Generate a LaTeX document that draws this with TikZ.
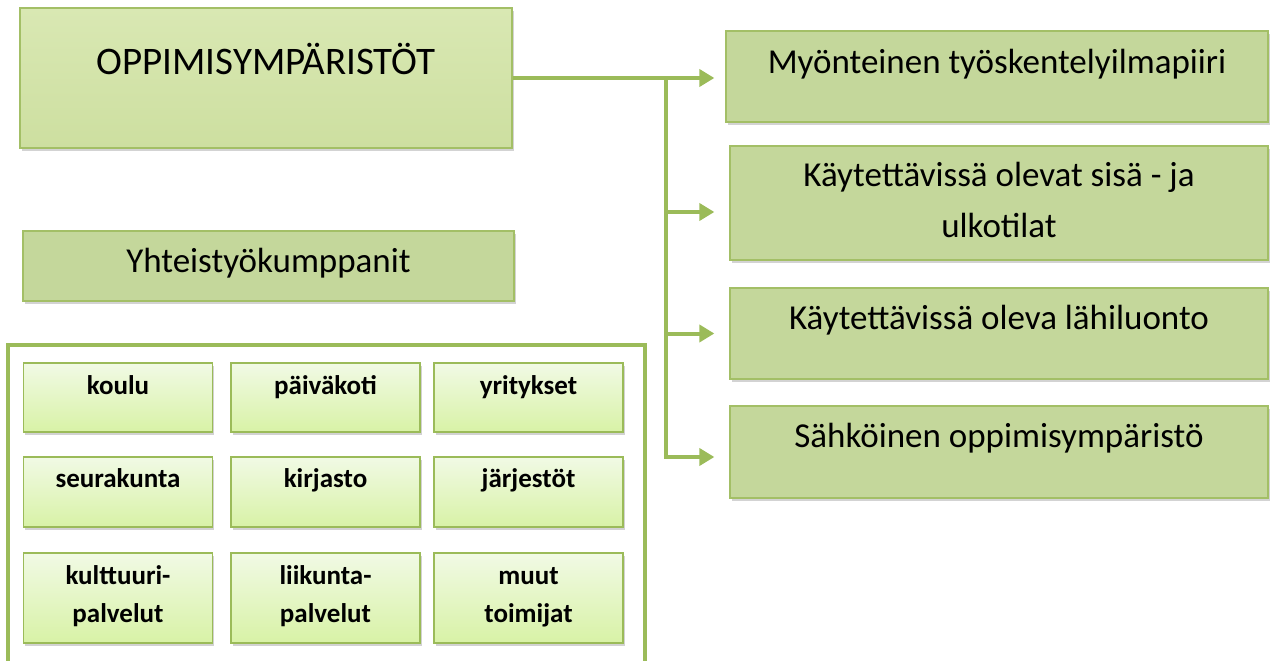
\documentclass[tikz,border=0pt]{standalone}
\usepackage{fontspec}
\setmainfont{Carlito}
\usetikzlibrary{arrows.meta,shadows,calc}

\definecolor{envgreen}{HTML}{C4D79B}
\definecolor{maintop}{HTML}{D9E8B3}
\definecolor{mainbot}{HTML}{CDDFA0}
\definecolor{linegreen}{HTML}{9BBB59}
\definecolor{edgegreen}{HTML}{A3BF66}
\definecolor{celltop}{HTML}{F1FAE5}
\definecolor{cellbot}{HTML}{D8F2A6}

\begin{document}
\begin{tikzpicture}[x=1pt,y=-1pt,
  box/.style={draw=edgegreen,line width=1.3pt,fill=envgreen,inner sep=0pt,
    drop shadow={shadow xshift=1.5pt,shadow yshift=-3pt,opacity=.35}},
  envbox/.style={box,minimum width=538pt},
  cell/.style={box,draw=linegreen,top color=celltop,bottom color=cellbot,minimum width=189pt},
  bigtxt/.style={anchor=base,inner sep=0pt,font=\fontsize{35}{51}\selectfont,align=center},
  celltxt/.style={anchor=base,inner sep=0pt,font=\fontsize{27}{38}\selectfont\bfseries,align=center},
  conn/.style={draw=linegreen,line width=4pt,-{Triangle[length=15pt,width=17pt]}}]
\useasboundingbox (0,0) rectangle (1270,661);
\clip (0,0) rectangle (1270,661);

% left side
\node[box,top color=maintop,bottom color=mainbot,minimum width=492pt,minimum height=140pt] (main) at (266,78) {};
\node[bigtxt,font=\fontsize{39}{47}\selectfont] (maintxt) at ([yshift=-67pt]main.north) {OPPIMISYMPÄRISTÖT};

\node[box,minimum width=491pt,minimum height=70pt] (coop) at (268.5,266) {};
\node[bigtxt] (cooptxt) at ([yshift=-42pt]coop.north) {Yhteistyökumppanit};

\node[draw=linegreen,line width=4pt,fill=white,minimum width=637pt,minimum height=320pt] (frame) at (326.5,505) {};

\foreach \n/\x in {1/118,2/325.5,3/528.5}{
  \node[cell,minimum height=69pt] (c1\n) at (\x,397.5) {};
  \node[cell,minimum height=70pt] (c2\n) at (\x,492) {};
  \node[cell,minimum height=90pt] (c3\n) at (\x,598) {};
}
\node[celltxt] (t11) at ([yshift=-32pt]c11.north) {koulu};
\node[celltxt] (t12) at ([yshift=-32pt]c12.north) {päiväkoti};
\node[celltxt] (t13) at ([yshift=-32pt]c13.north) {yritykset};
\node[celltxt] (t21) at ([yshift=-31pt]c21.north) {seurakunta};
\node[celltxt] (t22) at ([yshift=-31pt]c22.north) {kirjasto};
\node[celltxt] (t23) at ([yshift=-31pt]c23.north) {järjestöt};
% base = last line
\node[celltxt] (t31) at ([yshift=-70pt]c31.north) {kulttuuri-\\palvelut};
\node[celltxt] (t32) at ([yshift=-70pt]c32.north) {liikunta-\\palvelut};
\node[celltxt] (t33) at ([yshift=-70pt]c33.north) {muut\\toimijat};

% right side
\node[envbox,minimum width=542pt,minimum height=91pt] (env1) at (997,76.5) {};
\node[envbox,minimum height=114pt] (env2) at (999,203) {};
\node[envbox,minimum height=91pt] (env3) at (999,333.5) {};
\node[envbox,minimum height=92pt] (env4) at (999,452) {};
\node[bigtxt] (envtxt1) at ([yshift=-43pt]env1.north) {Myönteinen työskentelyilmapiiri};
\node[bigtxt] (envtxt2) at ([yshift=-92pt]env2.north) {Käytettävissä olevat sisä - ja\\ulkotilat};
\node[bigtxt] (envtxt3) at ([yshift=-42pt]env3.north) {Käytettävissä oleva lähiluonto};
\node[bigtxt] (envtxt4) at ([yshift=-42pt]env4.north) {Sähköinen oppimisympäristö};

% connectors
\coordinate (trunk) at (666,78);
\coordinate (a2) at ($(env2.west)+(0,9)$);
\coordinate (a4) at ($(env4.west)+(0,5)$);
\draw[conn,shorten >=11pt] (main.east) -- (main.east -| env1.west);
\draw[conn,shorten >=15pt] (trunk) |- (a4);
\draw[conn,shorten >=15pt] (a2 -| trunk) -- (a2);
\draw[conn,shorten >=15pt] (env3.west -| trunk) -- (env3.west);
\end{tikzpicture}
\end{document}
